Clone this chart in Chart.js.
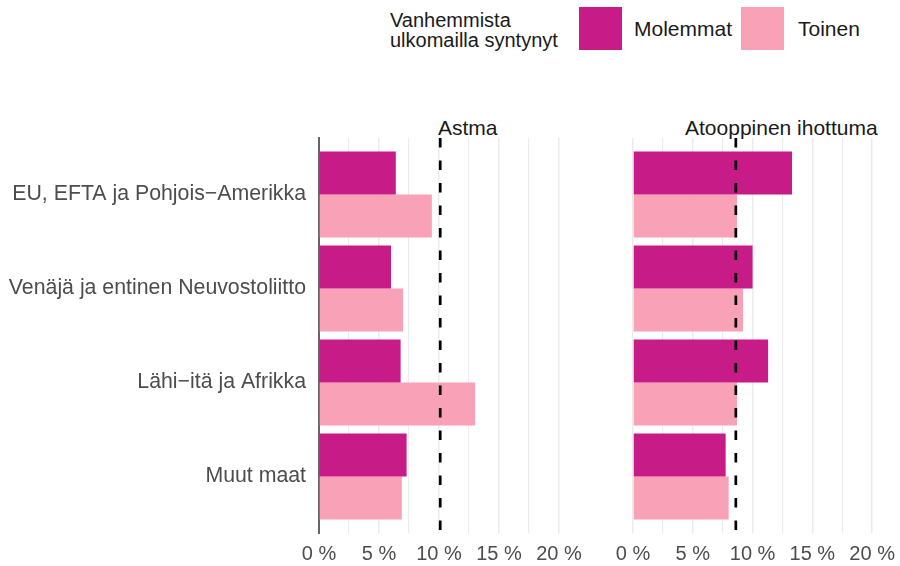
<!DOCTYPE html>
<html>
<head>
<meta charset="utf-8">
<script src="https://cdn.jsdelivr.net/npm/chart.js@4"></script>
<style>
body { margin:0; background:#fff; font-family:"Liberation Sans", Arial, sans-serif; }
#wrap { position:relative; width:900px; height:566px; overflow:hidden; }
.txt { position:absolute; white-space:nowrap; color:#1a1a1a; }
.sw { position:absolute; width:43px; height:43px; }
canvas { position:absolute; top:0; }
</style>
</head>
<body>
<div id="wrap">
  <div class="txt" style="left:390px;top:10px;font-size:20px;line-height:20px;">Vanhemmista<br>ulkomailla syntynyt</div>
  <div class="sw" id="sw1" style="left:579px;top:7px;"></div>
  <div class="txt" id="lg1" style="left:634px;top:17px;font-size:21px;line-height:24px;"></div>
  <div class="sw" id="sw2" style="left:741px;top:7px;"></div>
  <div class="txt" id="lg2" style="left:798px;top:17px;font-size:21px;line-height:24px;"></div>
  <div class="txt" id="t1" style="left:438px;top:116px;font-size:21px;line-height:24px;"></div>
  <div class="txt" id="t2" style="left:685px;top:116px;font-size:21px;line-height:24px;"></div>
  <canvas id="chartAstma" width="587" height="566" style="left:0px"></canvas>
  <canvas id="chartIho" width="307" height="566" style="left:593px"></canvas>
</div>
<script>
// data
const categories = ['EU, EFTA ja Pohjois\u2212Amerikka', 'Venäjä ja entinen Neuvostoliitto', 'Lähi\u2212itä ja Afrikka', 'Muut maat']
const seriesNames = ['Molemmat', 'Toinen']
const panelTitles = ['Astma', 'Atooppinen ihottuma']
const astmaMolemmat = [6.4, 6.0, 6.8, 7.3]
const astmaToinen = [9.4, 7.0, 13.0, 6.9]
const ihoMolemmat = [13.3, 10.0, 11.3, 7.75]
const ihoToinen = [8.7, 9.2, 8.7, 8.0]
// all children average (dashed line)
const averages = [10.1, 8.6]
const xTicks = [0, 2.5, 5, 7.5, 10, 12.5, 15, 17.5, 20]

const colors = ['rgb(199,27,136)', 'rgb(249,161,182)']
const font = '"Liberation Sans", Arial, sans-serif'

// legend + titles as text
document.getElementById('sw1').style.background = colors[0]
document.getElementById('sw2').style.background = colors[1]
document.getElementById('lg1').textContent = seriesNames[0]
document.getElementById('lg2').textContent = seriesNames[1]
document.getElementById('t1').textContent = panelTitles[0]
document.getElementById('t2').textContent = panelTitles[1]

function toPoints(arr){
    return arr.map(function(v, i){
        return {x: v, y: i + 1}
    })
}

// dashed average line
const avgLine = {
    id: 'avgLine',
    afterDatasetsDraw(chart, args, opts){
        const xs = chart.scales.x
        const area = chart.chartArea
        const px = xs.getPixelForValue(opts.value)
        const ctx = chart.ctx
        ctx.save()
        ctx.strokeStyle = '#000'
        ctx.lineWidth = 2.7
        ctx.setLineDash([9.5, 13])
        ctx.beginPath()
        ctx.moveTo(px, area.top)
        ctx.lineTo(px, area.bottom)
        ctx.stroke()
        ctx.restore()
    }
}

function makeConfig(molemmat, toinen, avg, leftPanel){
    return {
        type: 'bar',
        data: {
            datasets: [{
                label: seriesNames[0],
                data: toPoints(molemmat),
                backgroundColor: colors[0],
                borderWidth: 0
            }, {
                label: seriesNames[1],
                data: toPoints(toinen),
                backgroundColor: colors[1],
                borderWidth: 0
            }]
        },
        options: {
            indexAxis: 'y',
            responsive: false,
            animation: false,
            categoryPercentage: 0.915,
            barPercentage: 1.0,
            layout: { padding: { top: 138, left: 0, right: 0, bottom: 0 } },
            plugins: {
                legend: { display: false },
                tooltip: { enabled: false },
                avgLine: { value: avg }
            },
            scales: {
                x: {
                    type: 'linear',
                    min: 0,
                    max: 22.33,
                    afterBuildTicks: function(axis){
                        axis.ticks = xTicks.map(function(v){ return {value: v} })
                    },
                    afterFit: function(axis){ axis.height = 33 },
                    grid: {
                        color: '#ebebeb',
                        lineWidth: function(c){ return c.tick && c.tick.value % 5 === 0 ? 1.5 : 1.1 },
                        drawTicks: true,
                        tickLength: 9,
                        tickColor: 'rgba(0,0,0,0)'
                    },
                    border: { display: false },
                    ticks: {
                        padding: 0,
                        color: '#4d4d4d',
                        font: { family: font, size: 20 },
                        maxRotation: 0,
                        autoSkip: false,
                        callback: function(v){ return v % 5 === 0 ? v + ' %' : '' }
                    }
                },
                y: {
                    type: 'linear',
                    min: 0.4,
                    max: 4.6,
                    offset: false,
                    reverse: true,
                    afterBuildTicks: function(axis){
                        axis.ticks = categories.map(function(c, i){ return {value: i + 1} })
                    },
                    afterFit: function(axis){ axis.width = leftPanel ? 319 : 40 },
                    grid: { display: false, drawTicks: false },
                    border: { display: leftPanel, color: '#666', width: 2 },
                    ticks: {
                        display: leftPanel,
                        padding: 13,
                        color: '#4d4d4d',
                        font: { family: font, size: 21.3 },
                        autoSkip: false,
                        callback: function(v){ return categories[v - 1] || '' }
                    }
                }
            }
        },
        plugins: [avgLine]
    }
}

let chartAstma = new Chart(document.getElementById('chartAstma'), makeConfig(astmaMolemmat, astmaToinen, averages[0], true))
let chartIho = new Chart(document.getElementById('chartIho'), makeConfig(ihoMolemmat, ihoToinen, averages[1], false))
</script>
</body>
</html>
